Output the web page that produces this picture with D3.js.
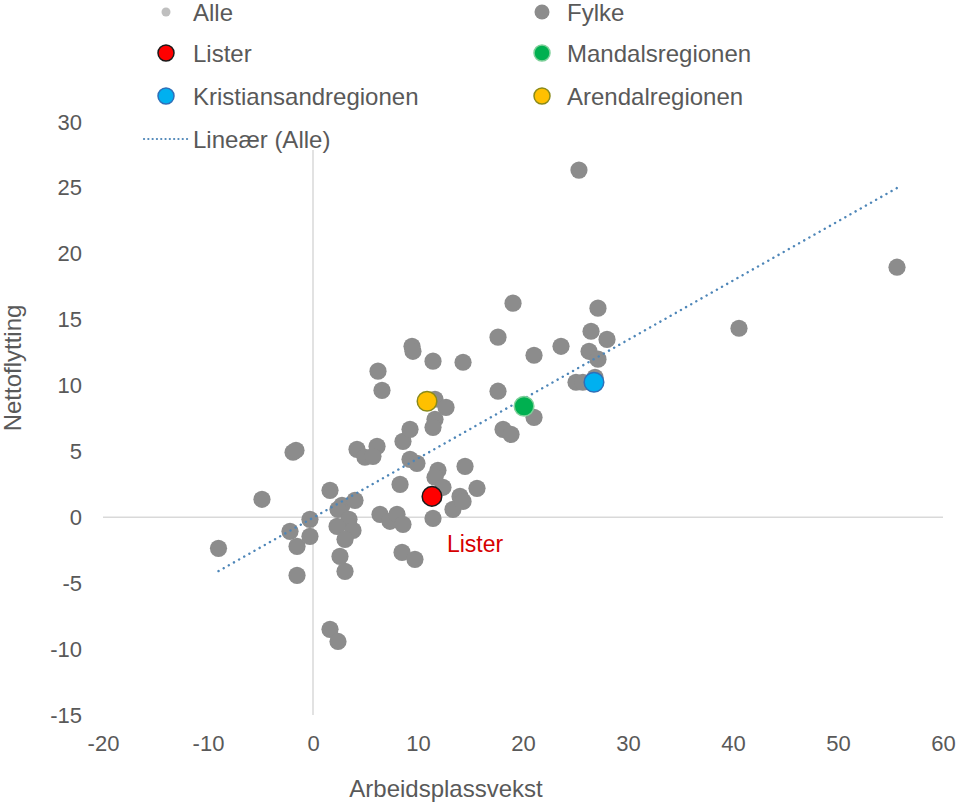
<!DOCTYPE html>
<html><head><meta charset="utf-8">
<script src="https://cdn.jsdelivr.net/npm/d3@7"></script>
<style>
html,body{margin:0;padding:0;background:#fff;}
svg{display:block;font-family:"Liberation Sans",Arial,sans-serif;}
</style></head>
<body>
<svg id="chart" width="960" height="805"></svg>
<script>
// ---- data ----
const allX = [-9.0,-4.86,-1.90,-1.62,-1.52,-2.19,-1.52,-0.29,-0.29,
  1.62,2.76,2.38,4.0,3.43,2.29,3.81,3.05,2.57,3.05,1.62,2.38,4.19,4.95,6.1,5.71,
  6.19,6.57,6.38,7.33,8.0,8.57,8.29,8.48,9.71,8.57,9.24,9.24,9.9,9.43,9.52,11.43,14.29,
  11.62,12.67,11.62,11.43,11.9,11.62,12.38,11.43,13.33,14.0,14.29,14.48,15.62,
  17.62,17.62,18.1,18.86,19.05,21.05,21.05,23.62,27.14,26.48,28.0,26.29,27.14,
  25.05,25.7,26.86,25.33,40.57,55.62];
const allY = [-2.35,1.37,4.94,5.09,-4.40,-1.06,-2.20,-1.44,-0.15,
  2.05,0.91,0.61,1.29,-0.15,-0.68,-0.99,-1.67,-2.96,-4.10,-8.5,-9.42,5.16,4.56,5.39,4.63,
  11.09,9.64,0.23,-0.30,0.23,-0.53,2.5,-2.66,-3.19,5.77,6.68,4.40,4.1,12.98,12.6,11.85,11.77,
  8.96,8.35,7.44,6.83,3.57,3.04,2.28,-0.08,0.61,1.59,1.21,3.87,2.2,
  13.67,9.57,6.68,6.30,16.25,7.59,12.30,12.98,15.87,14.12,13.5,12.6,12.0,
  10.25,10.25,10.63,26.35,14.35,18.98];

const regionNames  = ["Lister","Mandalsregionen","Kristiansandregionen","Arendalregionen"];
const regionX      = [11.33, 20.1, 26.76, 10.86];
const regionY      = [1.59, 8.43, 10.25, 8.81];
const regionFill   = ["#ff0000","#00b050","#00b0f0","#ffc000"];
const regionStroke = ["#1a1a1a","#7fd09a","#2f6fb8","#8a8a1a"];

const xTicks = [-20,-10,0,10,20,30,40,50,60];
const yTicks = [-15,-10,-5,0,5,10,15,20,25,30];

const legendItems = [
  {label:"Alle", kind:"dot", fill:"#bfbfbf", stroke:"none", r:4.5},
  {label:"Fylke", kind:"dot", fill:"#8c8c8c", stroke:"none", r:7.5},
  {label:"Lister", kind:"dot", fill:"#ff0000", stroke:"#1a1a1a", r:8},
  {label:"Mandalsregionen", kind:"dot", fill:"#00b050", stroke:"#7fd09a", r:8},
  {label:"Kristiansandregionen", kind:"dot", fill:"#00b0f0", stroke:"#2f6fb8", r:8},
  {label:"Arendalregionen", kind:"dot", fill:"#ffc000", stroke:"#8a8a1a", r:8},
  {label:"Lineær (Alle)", kind:"line"}
];

// ---- drawing ----
const svg = d3.select("#chart");
const x = d3.scaleLinear().domain([-20,60]).range([103,943]);
const y = d3.scaleLinear().domain([-15,30]).range([715,122]);
const textCol = "#595959";
const fmt = d => String(d);

// zero lines
svg.append("line").attr("x1",x(-20)).attr("x2",x(60)).attr("y1",y(0)).attr("y2",y(0))
  .attr("stroke","#d9d9d9").attr("stroke-width",1.5);
svg.append("line").attr("x1",x(0)).attr("x2",x(0)).attr("y1",y(30)).attr("y2",y(-15))
  .attr("stroke","#d9d9d9").attr("stroke-width",1.5);

// axes tick labels
const xAxis = d3.axisBottom(x).tickValues(xTicks).tickSize(0).tickPadding(0).tickFormat(fmt);
const gx = svg.append("g").attr("transform",`translate(0,${y(-15)+20})`).call(xAxis);
gx.select(".domain").remove();
gx.selectAll("text").attr("font-size",22).attr("fill",textCol).attr("font-family","Liberation Sans, Arial, sans-serif");

const yAxis = d3.axisLeft(y).tickValues(yTicks).tickSize(0).tickPadding(0).tickFormat(fmt);
const gy = svg.append("g").attr("transform",`translate(82,0)`).call(yAxis);
gy.select(".domain").remove();
gy.selectAll("text").attr("font-size",22).attr("fill",textCol).attr("font-family","Liberation Sans, Arial, sans-serif");

// axis titles
svg.append("text").attr("x",446).attr("y",797).attr("text-anchor","middle")
  .attr("font-size",24).attr("fill",textCol).text("Arbeidsplassvekst");
svg.append("text").attr("transform","translate(21,368) rotate(-90)").attr("text-anchor","middle")
  .attr("font-size",24).attr("fill",textCol).text("Nettoflytting");

// gray points
const pts = allX.map((v,i)=>({x:v,y:allY[i]}));
svg.append("g").selectAll("circle").data(pts).join("circle")
  .attr("cx",d=>x(d.x)).attr("cy",d=>y(d.y)).attr("r",8.6).attr("fill","#8c8c8c");

// linear trend (least squares on all points)
const everyX = allX.concat(regionX), everyY = allY.concat(regionY);
const n = everyX.length;
const mx = d3.mean(everyX), my = d3.mean(everyY);
let sxy=0, sxx=0;
for(let i=0;i<n;i++){ sxy += (everyX[i]-mx)*(everyY[i]-my); sxx += (everyX[i]-mx)**2; }
const slope = sxy/sxx, icpt = my - slope*mx;
const xmin = d3.min(everyX), xmax = d3.max(everyX);
svg.append("line")
  .attr("x1",x(xmin)).attr("y1",y(icpt+slope*xmin))
  .attr("x2",x(xmax)).attr("y2",y(icpt+slope*xmax))
  .attr("stroke","#4e86b8").attr("stroke-width",2.4)
  .attr("stroke-dasharray","0.1 5.8").attr("stroke-linecap","round");

// highlighted regions
const regs = regionNames.map((nm,i)=>({name:nm,x:regionX[i],y:regionY[i],fill:regionFill[i],stroke:regionStroke[i]}));
svg.append("g").selectAll("circle").data(regs).join("circle")
  .attr("cx",d=>x(d.x)).attr("cy",d=>y(d.y)).attr("r",9.8)
  .attr("fill",d=>d.fill).attr("stroke",d=>d.stroke).attr("stroke-width",1.5);

// Lister annotation
svg.append("text").attr("x",x(regionX[0])+15).attr("y",y(regionY[0])+56)
  .attr("font-size",23).attr("fill","#d60000").text("Lister");

// legend
const lg = svg.append("g");
lg.append("rect").attr("x",138).attr("y",0).attr("width",640).attr("height",150).attr("fill","#fff");
legendItems.forEach((it,i)=>{
  const col = i%2, row = Math.floor(i/2);
  const cy = [12,53,96,139][row];
  const mxp = col===0 ? 166 : 542;
  const tx = col===0 ? 193 : 567;
  if(it.kind==="dot"){
    lg.append("circle").attr("cx",mxp).attr("cy",cy).attr("r",it.r)
      .attr("fill",it.fill).attr("stroke",it.stroke).attr("stroke-width",1.5);
  } else {
    lg.append("line").attr("x1",144).attr("x2",189).attr("y1",cy).attr("y2",cy)
      .attr("stroke","#4e86b8").attr("stroke-width",2.2)
      .attr("stroke-dasharray","0.1 4.2").attr("stroke-linecap","round");
  }
  lg.append("text").attr("x",tx).attr("y",cy+8.5).attr("font-size",24).attr("fill",textCol).text(it.label);
});
</script>
</body></html>
